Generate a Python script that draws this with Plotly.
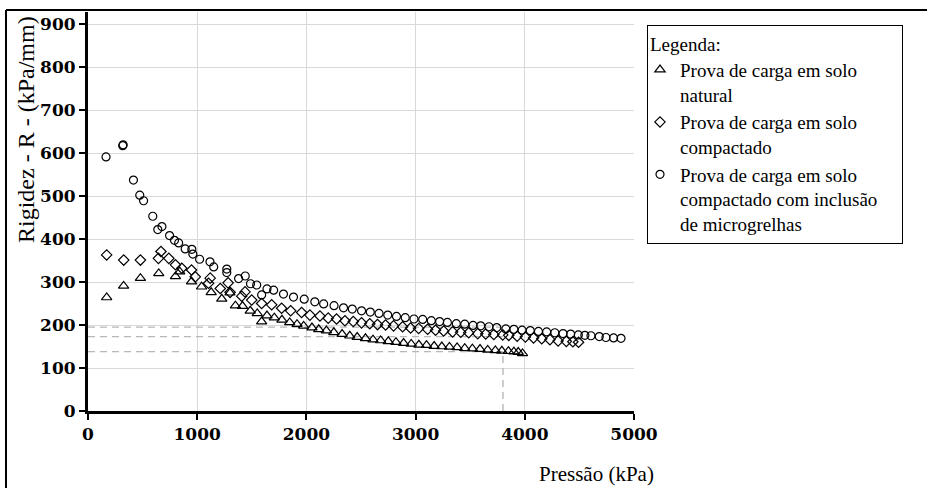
import plotly.graph_objects as go

# ---------------- data ----------------
natural_x = [171, 326, 480, 648, 801, 840, 948, 1040, 1128, 1225,
             1300, 1350, 1415, 1486, 1550, 1590, 1639, 1706, 1776, 1847,
             1914, 1975, 2051, 2113, 2183, 2251, 2327, 2397, 2465, 2541,
             2610, 2680, 2750, 2820, 2890, 2960, 3030, 3100, 3170, 3240,
             3310, 3380, 3450, 3520, 3590, 3660, 3730, 3790, 3850, 3900,
             3940, 3979]
natural_y = [264, 291, 309, 320, 313, 324, 301, 289, 276, 261,
             275, 245, 244, 233, 227, 208, 222, 217, 212, 206,
             202, 198, 194, 190, 187, 183, 179, 175, 172, 169,
             166, 164, 162, 160, 158, 156, 154, 153, 151, 150,
             149, 148, 146, 145, 144, 142, 141, 140, 139, 138,
             137, 134]

compact_x = [171, 327, 480, 645, 668, 740, 801, 859, 948, 982,
             1104, 1119, 1211, 1283, 1301, 1408, 1438, 1499, 1590, 1682,
             1773, 1856, 1956, 2032, 2124, 2200, 2276, 2353, 2429, 2505,
             2580, 2651, 2725, 2798, 2881, 2954, 3028, 3110, 3183, 3257,
             3339, 3413, 3486, 3569, 3642, 3716, 3798, 3853, 3930, 4005,
             4080, 4155, 4230, 4305, 4380, 4440, 4492]
compact_y = [363, 351, 351, 355, 371, 355, 340, 332, 328, 312,
             297, 309, 285, 298, 276, 267, 277, 258, 250, 247,
             239, 233, 229, 223, 221, 216, 214, 210, 208, 205,
             203, 201, 200, 198, 196, 193, 192, 190, 188, 186,
             184, 183, 182, 180, 179, 178, 177, 176, 174, 172,
             170, 168, 166, 163, 162, 161, 160]

micro_x = [165, 318, 322, 416, 474, 509, 593, 639, 677, 747,
           792, 830, 890, 951, 960, 1022, 1117, 1151, 1271, 1271,
           1379, 1440, 1488, 1545, 1590, 1639, 1700, 1790, 1882, 1980,
           2077, 2158, 2253, 2340, 2420, 2505, 2585, 2665, 2745, 2825,
           2905, 2985, 3065, 3144, 3220, 3291, 3373, 3450, 3526, 3596,
           3672, 3743, 3826, 3900, 3975, 4050, 4125, 4200, 4275, 4350,
           4420, 4490, 4550, 4606, 4682, 4743, 4813, 4881]
micro_y = [591, 617, 619, 537, 502, 489, 453, 422, 429, 408,
           397, 391, 377, 376, 365, 353, 347, 335, 330, 322,
           308, 314, 296, 293, 270, 284, 281, 272, 265, 260,
           254, 249, 245, 240, 237, 233, 230, 227, 223, 220,
           217, 214, 213, 210, 208, 206, 203, 202, 199, 198,
           196, 194, 191, 190, 188, 187, 185, 184, 182, 180,
           179, 177, 176, 175, 173, 171, 170, 169]

ref_pressure = 3800               # vertical reference (kPa)
ref_rigidez = [195, 173, 138]     # horizontal references (kPa/mm)

x_ticks = [0, 1000, 2000, 3000, 4000, 5000]
y_ticks = [0, 100, 200, 300, 400, 500, 600, 700, 800, 900]

series_names = [
    "Prova de carga em solo<br>natural",
    "Prova de carga em solo<br>compactado",
    "Prova de carga em solo<br>compactado com inclusão&nbsp;&nbsp;&nbsp;&nbsp;<br>de microgrelhas",
]

# ---------------- figure ----------------
W, H = 927, 488
ML, MR, MT, MB = 88, 293, 12, 77
PW, PH = W - ML - MR, H - MT - MB


def px_x(p):
    return (p - ML) / PW


def px_y(p):
    return (H - MB - p) / PH


fig = go.Figure()

dash_style = dict(color="#b8b8b8", width=1.4, dash="7px,5px")
for r in ref_rigidez:
    fig.add_trace(go.Scatter(x=[0, ref_pressure], y=[r, r], mode="lines",
                             line=dash_style, showlegend=False, hoverinfo="skip"))
fig.add_trace(go.Scatter(x=[ref_pressure, ref_pressure], y=[0, min(ref_rigidez)],
                         mode="lines", line=dash_style, showlegend=False,
                         hoverinfo="skip"))

fig.add_trace(go.Scatter(x=natural_x, y=natural_y, mode="markers",
                         name=series_names[0],
                         marker=dict(symbol="triangle-up-open", size=9, color="black",
                                     line=dict(width=1.2, color="black"))))
fig.add_trace(go.Scatter(x=compact_x, y=compact_y, mode="markers",
                         name=series_names[1],
                         marker=dict(symbol="diamond-open", size=8, color="black",
                                     line=dict(width=1.2, color="black"))))
fig.add_trace(go.Scatter(x=micro_x, y=micro_y, mode="markers",
                         name=series_names[2],
                         marker=dict(symbol="circle-open", size=8, color="black",
                                     line=dict(width=1.2, color="black"))))

serif = "Liberation Serif, Times New Roman, serif"
tickfont = dict(family="DejaVu Serif", size=17, color="black", weight="bold")

fig.update_layout(
    width=W, height=H,
    margin=dict(l=ML, r=MR, t=MT, b=MB, pad=0, autoexpand=False),
    paper_bgcolor="white", plot_bgcolor="white",
    showlegend=True,
    legend=dict(
        x=px_x(647), y=px_y(25), xanchor="left", yanchor="top",
        bordercolor="black", borderwidth=1, bgcolor="white",
        font=dict(family=serif, size=19, color="black"),
        title=dict(text="Legenda:", font=dict(family=serif, size=19, color="black")),
        valign="top", tracegroupgap=0, itemsizing="trace", indentation=-8,
    ),
    xaxis=dict(
        range=[0, 5000], tickvals=x_ticks, ticktext=[str(v) for v in x_ticks],
        showgrid=True, gridcolor="#d9d9d9", gridwidth=1,
        showline=True, linecolor="black", linewidth=3,
        ticks="outside", ticklen=6, tickwidth=2, tickcolor="black",
        tickfont=tickfont, zeroline=False, fixedrange=True,
    ),
    yaxis=dict(
        range=[0, 928], tickvals=y_ticks, ticktext=[str(v) for v in y_ticks],
        showgrid=True, gridcolor="#d9d9d9", gridwidth=1,
        showline=True, linecolor="black", linewidth=3,
        ticks="outside", ticklen=6, tickwidth=2, tickcolor="black",
        tickfont=tickfont, zeroline=False, fixedrange=True,
    ),
    annotations=[
        dict(text="Rigidez - R - (kPa/mm)", textangle=-90, showarrow=False,
             xref="paper", yref="paper", x=px_x(26), y=px_y(130),
             xanchor="center", yanchor="middle",
             font=dict(family=serif, size=24, color="black")),
        dict(text="Pressão (kPa)", showarrow=False,
             xref="paper", yref="paper", x=px_x(596), y=px_y(474),
             xanchor="center", yanchor="middle",
             font=dict(family=serif, size=21, color="black")),
    ],
    shapes=[
        dict(type="line", xref="paper", yref="paper",
             x0=px_x(6), x1=px_x(940), y0=px_y(10), y1=px_y(10),
             line=dict(color="black", width=2)),
        dict(type="line", xref="paper", yref="paper",
             x0=px_x(6), x1=px_x(6), y0=px_y(10), y1=px_y(500),
             line=dict(color="black", width=2)),
    ],
)

fig.write_html("out.html",
               config={"displayModeBar": False},
               post_script="document.body.style.margin='0px';"
                           "document.body.style.padding='0px';")
